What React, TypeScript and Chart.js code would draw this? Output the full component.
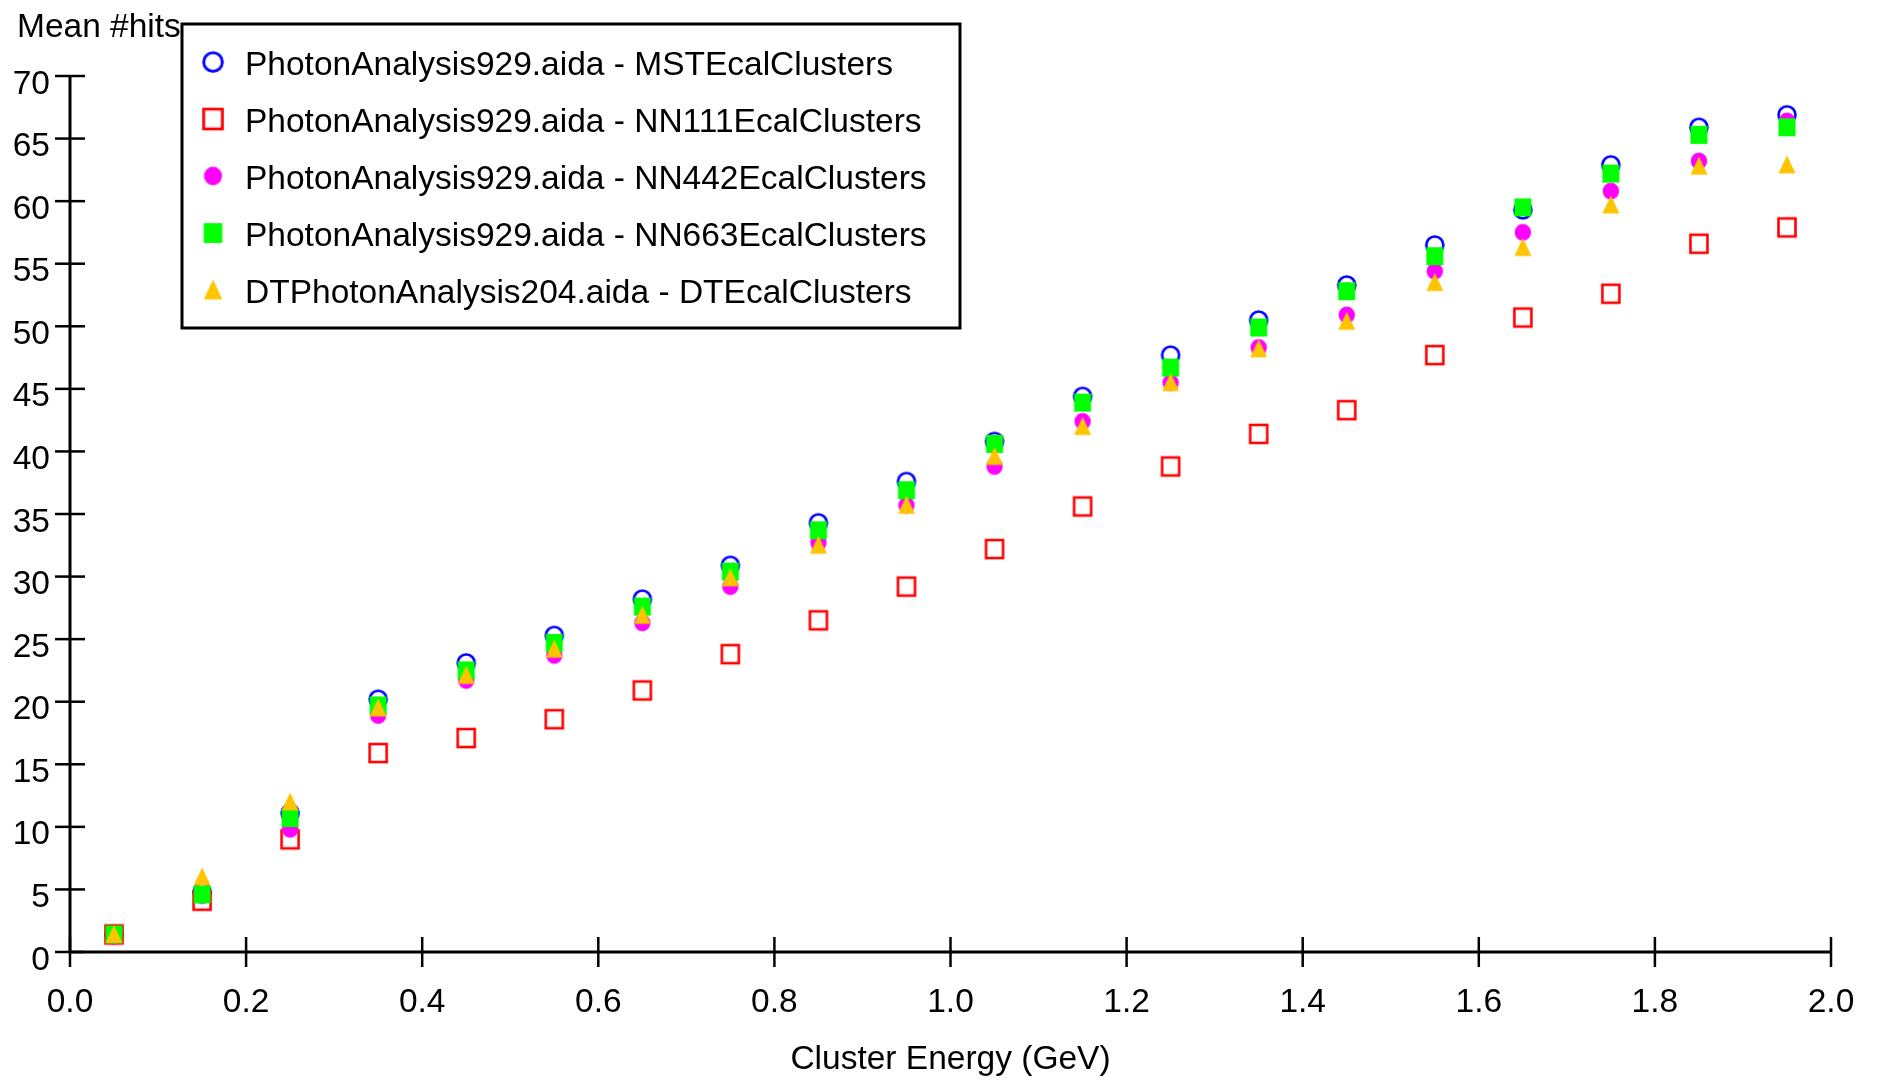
import React, { useEffect, useRef } from 'react';
import { Chart, registerables } from 'chart.js';

Chart.register(...registerables);

// ---- data ----
const energyBins = [0.05, 0.15, 0.25, 0.35, 0.45, 0.55, 0.65, 0.75, 0.85, 0.95, 1.05, 1.15, 1.25, 1.35, 1.45, 1.55, 1.65, 1.75, 1.85, 1.95];
const mstHits = [1.4, 4.8, 11.1, 20.2, 23.1, 25.3, 28.2, 30.9, 34.3, 37.6, 40.8, 44.4, 47.7, 50.5, 53.3, 56.5, 59.3, 62.9, 65.9, 66.9];
const nn111Hits = [1.4, 4.1, 9.0, 15.9, 17.1, 18.6, 20.9, 23.8, 26.5, 29.2, 32.2, 35.6, 38.8, 41.4, 43.3, 47.7, 50.7, 52.6, 56.6, 57.9];
const nn442Hits = [1.3, 4.5, 9.8, 18.9, 21.7, 23.7, 26.3, 29.2, 32.7, 35.7, 38.8, 42.4, 45.5, 48.3, 50.9, 54.4, 57.5, 60.8, 63.2, 66.4];
const nn663Hits = [1.4, 4.6, 10.7, 19.7, 22.5, 24.7, 27.6, 30.4, 33.7, 36.9, 40.6, 43.9, 46.7, 49.9, 52.8, 55.6, 59.5, 62.2, 65.3, 65.9];
const dtHits = [1.4, 6.0, 12.0, 19.5, 22.1, 24.2, 26.9, 29.9, 32.5, 35.7, 39.6, 42.0, 45.5, 48.2, 50.4, 53.5, 56.3, 59.7, 62.8, 62.9];

const seriesLabels = [
  'PhotonAnalysis929.aida - MSTEcalClusters',
  'PhotonAnalysis929.aida - NN111EcalClusters',
  'PhotonAnalysis929.aida - NN442EcalClusters',
  'PhotonAnalysis929.aida - NN663EcalClusters',
  'DTPhotonAnalysis204.aida - DTEcalClusters',
];
const xAxisTitle = 'Cluster Energy (GeV)';
const yAxisTitle = 'Mean #hits';

const FONT = '"Liberation Sans", Arial, Helvetica, sans-serif';
const FONT_PX = 33.5;

function makeMarker(kind: string, color: string): HTMLCanvasElement {
  const c = document.createElement('canvas');
  const s = 24;
  c.width = s;
  c.height = s;
  const g = c.getContext('2d') as CanvasRenderingContext2D;
  const m = s / 2;
  if (kind === 'circle') {
    g.strokeStyle = color;
    g.lineWidth = 2.6;
    g.beginPath();
    g.arc(m, m, 8.5, 0, Math.PI * 2);
    g.stroke();
  } else if (kind === 'openSquare') {
    g.strokeStyle = color;
    g.lineWidth = 2.6;
    g.strokeRect(m - 8.5, m - 9, 17, 18);
  } else if (kind === 'disc') {
    g.fillStyle = color;
    g.beginPath();
    g.ellipse(m, m, 8.2, 8.5, 0, 0, Math.PI * 2);
    g.fill();
  } else if (kind === 'square') {
    g.fillStyle = color;
    g.fillRect(m - 8.5, m - 9, 17, 18);
  } else {
    g.fillStyle = color;
    g.beginPath();
    g.moveTo(m, m - 9.5);
    g.lineTo(m + 8.5, m + 8.5);
    g.lineTo(m - 8.5, m + 8.5);
    g.closePath();
    g.fill();
  }
  return c;
}

const hepPlugin = {
  id: 'hepDecor',
  beforeDatasetsDraw(chart: any) {
    const { ctx, scales } = chart;
    const xs = scales.x;
    const ys = scales.y;
    const x0 = xs.getPixelForValue(0);
    const y0 = ys.getPixelForValue(0);
    ctx.save();
    ctx.strokeStyle = '#000';
    ctx.lineCap = 'butt';
    // axis lines
    ctx.lineWidth = 3;
    ctx.beginPath();
    ctx.moveTo(x0, y0);
    ctx.lineTo(xs.getPixelForValue(2), y0);
    ctx.moveTo(x0, y0);
    ctx.lineTo(x0, ys.getPixelForValue(70));
    ctx.stroke();
    // ticks crossing axes
    ctx.lineWidth = 2.5;
    ctx.fillStyle = '#000';
    ctx.font = `${FONT_PX}px ${FONT}`;
    ctx.textBaseline = 'alphabetic';
    ctx.textAlign = 'right';
    ys.ticks.forEach((t: any) => {
      const py = ys.getPixelForValue(t.value);
      ctx.beginPath();
      ctx.moveTo(x0 - 15, py);
      ctx.lineTo(x0 + 15, py);
      ctx.stroke();
      ctx.fillText(String(Math.round(t.value)), x0 - 20, py + 17.5);
    });
    ctx.textAlign = 'center';
    xs.ticks.forEach((t: any) => {
      const px = xs.getPixelForValue(t.value);
      ctx.beginPath();
      ctx.moveTo(px, y0 - 15);
      ctx.lineTo(px, y0 + 15);
      ctx.stroke();
      ctx.fillText(Number(t.value).toFixed(1), px, y0 + 60);
    });
    // titles
    ctx.textAlign = 'center';
    ctx.fillText(xAxisTitle, (xs.left + xs.right) / 2, 1069);
    ctx.textAlign = 'left';
    ctx.fillText(yAxisTitle, 17, 37);
    ctx.restore();
  },
  afterDraw(chart: any) {
    const { ctx } = chart;
    ctx.save();
    const bx = 182, by = 24, bw = 778, bh = 304;
    ctx.fillStyle = '#fff';
    ctx.fillRect(bx, by, bw, bh);
    ctx.strokeStyle = '#000';
    ctx.lineWidth = 3;
    ctx.strokeRect(bx, by, bw, bh);
    ctx.font = `${FONT_PX}px ${FONT}`;
    ctx.fillStyle = '#000';
    ctx.textAlign = 'left';
    ctx.textBaseline = 'alphabetic';
    const rowY = [62, 119, 176, 233, 290];
    chart.data.datasets.forEach((ds: any, i: number) => {
      const img = ds.pointStyle as HTMLCanvasElement;
      const cy = rowY[i];
      const w = img.width * 1.1;
      const h = img.height * 1.1;
      ctx.drawImage(img, 213 - w / 2, cy - h / 2, w, h);
      ctx.fillText(ds.label, 245, cy + 12.5);
    });
    ctx.restore();
  },
};

export default function App() {
  const ref = useRef<HTMLCanvasElement | null>(null);

  useEffect(() => {
    document.body.style.margin = '0';
    document.body.style.overflow = 'hidden';
    const canvas = ref.current;
    if (!canvas) return;
    const markers = [
      makeMarker('circle', '#0000ff'),
      makeMarker('openSquare', '#ff0000'),
      makeMarker('disc', '#ff00ff'),
      makeMarker('square', '#00ff00'),
      makeMarker('triangle', '#ffc400'),
    ];
    const seriesValues = [mstHits, nn111Hits, nn442Hits, nn663Hits, dtHits];
    const datasets = seriesValues.map((vals, i) => ({
      label: seriesLabels[i],
      data: energyBins.map((x, j) => ({ x, y: vals[j] })),
      pointStyle: markers[i],
      pointRadius: 10,
      pointHoverRadius: 10,
      showLine: false,
      order: 5 - i,
    }));

    const chart = new Chart(canvas, {
      type: 'scatter',
      data: { datasets },
      options: {
        responsive: false,
        animation: false,
        devicePixelRatio: 1,
        events: [],
        layout: { padding: { top: 76, right: 48, left: 0, bottom: 0 } },
        plugins: { legend: { display: false }, tooltip: { enabled: false } },
        scales: {
          x: {
            type: 'linear',
            min: 0,
            max: 2,
            ticks: { display: false, stepSize: 0.2 },
            grid: { display: false },
            border: { display: false },
            afterFit: (s: any) => { s.height = 128; },
          },
          y: {
            type: 'linear',
            min: 0,
            max: 70,
            ticks: { display: false, stepSize: 5 },
            grid: { display: false },
            border: { display: false },
            afterFit: (s: any) => { s.width = 70; },
          },
        },
      } as any,
      plugins: [hepPlugin],
    });
    return () => chart.destroy();
  }, []);

  return <canvas ref={ref} width={1879} height={1080} style={{ display: 'block' }} />;
}
